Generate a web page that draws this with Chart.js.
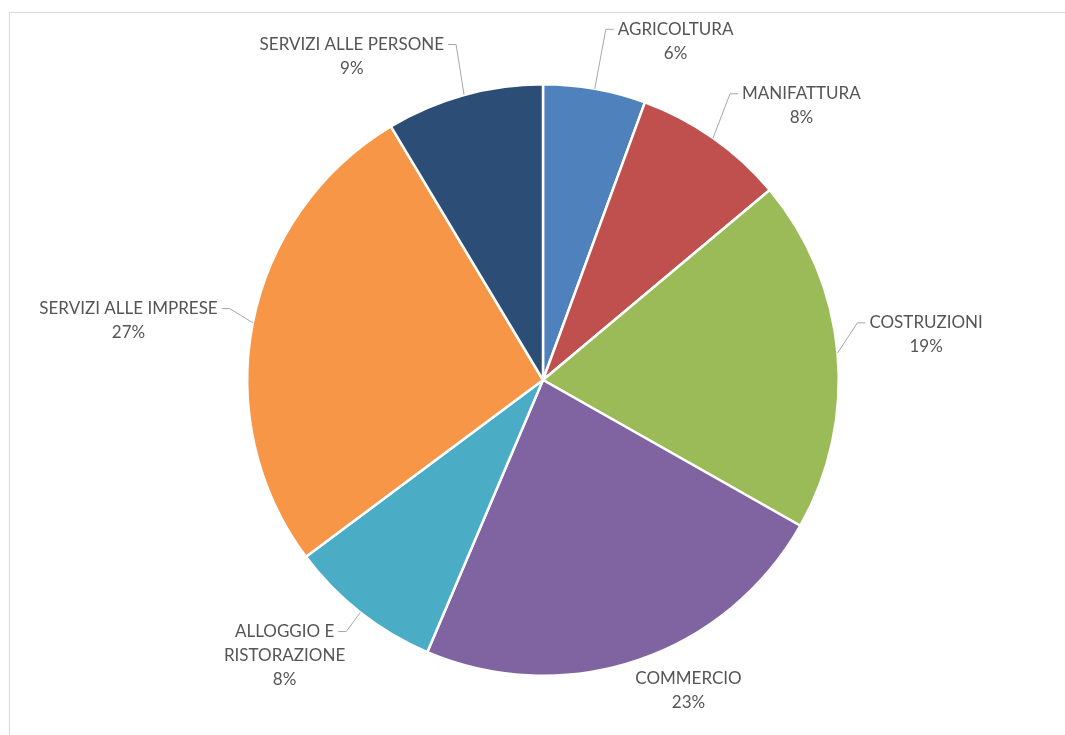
<!DOCTYPE html>
<html>
<head>
<meta charset="utf-8">
<script src="https://cdn.jsdelivr.net/npm/chart.js@4.4.1/dist/chart.umd.min.js"></script>
<style>
  html, body { margin: 0; padding: 0; background: #fff; }
  #wrap { position: relative; width: 1065px; height: 735px; overflow: hidden; }
  #frame { position: absolute; left: 9px; top: 12px; width: 1100px; height: 800px; border: 1px solid #d9d9d9; box-sizing: border-box; }
  canvas { position: absolute; left: 0; top: 0; }
</style>
</head>
<body>
<div id="wrap">
  <div id="frame"></div>
  <canvas id="settoriChart" width="1065" height="735"></canvas>
</div>
<script>
const sectors = ["AGRICOLTURA", "MANIFATTURA", "COSTRUZIONI", "COMMERCIO", ["ALLOGGIO E", "RISTORAZIONE"], "SERVIZI ALLE IMPRESE", "SERVIZI ALLE PERSONE"];
const shares = [5.6, 8.3, 19.3, 23.2, 8.4, 26.6, 8.6];
const sliceColors = ["#4f81bd", "#c0504d", "#9bbb59", "#8064a2", "#4bacc6", "#f79646", "#2c4d75"];

// where excel's "best fit" put each label: [angle shift in degrees, distance past the rim]
const labelNudge = [[11.3, 68], [8.2, 81], [-1.5, 90], [-6.4, 47], [5, 82], [-3, 123], [-15.1, 80]];

const outsideLabels = {
    id: "outsideLabels",
    afterDatasetsDraw(chart) {
        const ctx = chart.ctx;
        const meta = chart.getDatasetMeta(0);
        const total = shares.reduce((a, b) => a + b, 0);
        ctx.save();
        ctx.font = "17px Lato";
        ctx.textAlign = "center";
        ctx.textBaseline = "middle";
        meta.data.forEach((arc, i) => {
            const p = arc.getProps(["x", "y", "startAngle", "endAngle", "outerRadius"], true);
            const mid = (p.startAngle + p.endAngle) / 2;
            const a = mid + labelNudge[i][0] * Math.PI / 180;
            const r = p.outerRadius + labelNudge[i][1];
            const cx = p.x + Math.cos(a) * r;
            const cy = p.y + Math.sin(a) * r;
            const name = sectors[i];
            const lines = (Array.isArray(name) ? name : [name]).concat(Math.round(shares[i] / total * 100) + "%");
            const lh = 24;
            const top = cy - (lines.length - 1) * lh / 2;
            ctx.fillStyle = "#555555";
            lines.forEach((t, k) => ctx.fillText(t, cx, top + k * lh));

            // leader line from the rim when the label sits far away
            const px = p.x + Math.cos(mid) * p.outerRadius;
            const py = p.y + Math.sin(mid) * p.outerRadius;
            const w = ctx.measureText(lines[0]).width;
            const onLeft = cx < px;
            const ex = onLeft ? cx + w / 2 + 4 : cx - w / 2 - 4;
            if (Math.hypot(ex - px, top - py) > 24) {
                const kx = onLeft ? ex + 8 : ex - 8;
                ctx.strokeStyle = "#a6a6a6";
                ctx.lineWidth = 1;
                ctx.beginPath();
                ctx.moveTo(ex, top);
                ctx.lineTo(kx, top);
                ctx.lineTo(px, py);
                ctx.stroke();
            }
        });
        ctx.restore();
    }
};

function draw() {
    new Chart(document.getElementById("settoriChart"), {
        type: "pie",
        data: {
            labels: sectors,
            datasets: [{
                data: shares,
                backgroundColor: sliceColors,
                borderColor: "#ffffff",
                borderWidth: 2.5
            }]
        },
        options: {
            responsive: false,
            animation: false,
            layout: { padding: { left: 246, right: 225, top: 83, bottom: 58 } },
            plugins: {
                legend: { display: false },
                tooltip: { enabled: false }
            }
        },
        plugins: [outsideLabels]
    });
}

document.fonts.load("17px Lato").then(draw, draw);
</script>
</body>
</html>
